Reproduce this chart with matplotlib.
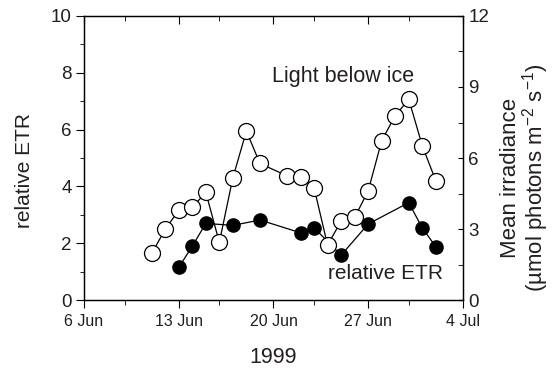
#!/usr/bin/env python3

import matplotlib
matplotlib.use("Agg")
import matplotlib.pyplot as plt
import matplotlib.dates as mdates
from matplotlib.ticker import MultipleLocator
from datetime import date, timedelta

plt.rcParams['font.family'] = ['Liberation Sans', 'DejaVu Sans']
plt.rcParams['text.color'] = '#231f20'
plt.rcParams['xtick.labelcolor'] = '#231f20'
plt.rcParams['ytick.labelcolor'] = '#231f20'
plt.rcParams['axes.labelcolor'] = '#231f20'

# light below ice (right axis)
light_days = ['1999-06-11', '1999-06-12', '1999-06-13', '1999-06-14', '1999-06-15',
              '1999-06-16', '1999-06-17', '1999-06-18', '1999-06-19', '1999-06-21',
              '1999-06-22', '1999-06-23', '1999-06-24', '1999-06-25', '1999-06-26',
              '1999-06-27', '1999-06-28', '1999-06-29', '1999-06-30', '1999-07-01',
              '1999-07-02']
light_vals = [1.97, 2.99, 3.80, 3.92, 4.55, 2.44, 5.17, 7.14, 5.77, 5.25,
              5.21, 4.75, 2.32, 3.34, 3.49, 4.61, 6.73, 7.79, 8.48, 6.52, 5.04]

# relative ETR (left axis)
etr_days = ['1999-06-13', '1999-06-14', '1999-06-15', '1999-06-17', '1999-06-19',
            '1999-06-22', '1999-06-23', '1999-06-25', '1999-06-27', '1999-06-30',
            '1999-07-01', '1999-07-02']
etr_vals = [1.15, 1.90, 2.70, 2.63, 2.82, 2.37, 2.55, 1.58, 2.68, 3.43, 2.54, 1.88]

tick_days = ['1999-06-06', '1999-06-13', '1999-06-20', '1999-06-27', '1999-07-04']
tick_labels = ['6 Jun', '13 Jun', '20 Jun', '27 Jun', '4 Jul']


def toDates(strs):
    return [date.fromisoformat(s) for s in strs]


fig = plt.figure(figsize=(5.53, 3.71), dpi=100)
ax = fig.add_axes([0.152, 0.191, 0.685, 0.766])
ax2 = ax.twinx()

ld = toDates(light_days)
ed = toDates(etr_days)
td = toDates(tick_days)

ax2.plot(ld, light_vals, '-o', color='black', lw=0.9, ms=11.5,
         mfc='white', mec='black', mew=0.9, zorder=3)
ax.plot(ed, etr_vals, '-o', color='black', lw=0.9, ms=9.5,
        mfc='black', mec='black', zorder=3)

ax.set_xlim(td[0], td[-1])
ax.set_ylim(0, 10)
ax2.set_ylim(0, 12)

ax.set_xticks(td)
ax.set_xticklabels(tick_labels, fontsize=11.5)
minors = [td[i] + timedelta(days=3.5) for i in range(len(td) - 1)]
ax.set_xticks(mdates.date2num(minors), minor=True)

ax.yaxis.set_major_locator(MultipleLocator(2))
ax.yaxis.set_minor_locator(MultipleLocator(1))
ax2.yaxis.set_major_locator(MultipleLocator(3))
ax2.yaxis.set_minor_locator(MultipleLocator(1.5))

ax.tick_params(axis='y', which='both', direction='out', labelsize=13.5, pad=3)
ax.tick_params(axis='y', which='major', length=6)
ax.tick_params(axis='y', which='minor', length=3)
ax.tick_params(axis='x', which='both', direction='out', top=True, length=3.5, pad=4)
ax.tick_params(axis='x', which='major', length=6)
ax2.tick_params(axis='y', which='both', direction='in', labelsize=13.5, length=3.5, pad=4)

# top ticks drawn inward
for t in ax.xaxis.get_major_ticks() + ax.xaxis.get_minor_ticks():
    t.tick2line.set_marker(3)

for a in (ax, ax2):
    for s in a.spines.values():
        s.set_linewidth(0.9)

ax.set_ylabel('relative ETR', fontsize=15, va='center', ha='center')
ax.yaxis.set_label_coords(-0.156, 0.456)
ax.set_xlabel('1999', fontsize=15.5, va='center', ha='center')
ax.xaxis.set_label_coords(0.498, -0.203)
ax2.set_ylabel('Mean irradiance\n(\u00b5mol photons m$^{\\mathregular{-2}}$ s$^{\\mathregular{-1}}$)',
               fontsize=16, va='center', ha='center', multialignment='center',
               linespacing=0.95)
ax2.yaxis.set_label_coords(1.166, 0.43)

ax.text(0.496, 0.769, 'Light below ice', transform=ax.transAxes,
        fontsize=15.5, va='baseline')
ax.text(0.643, 0.073, 'relative ETR', transform=ax.transAxes,
        fontsize=15, va='baseline')

fig.savefig('out.png', dpi=100)
